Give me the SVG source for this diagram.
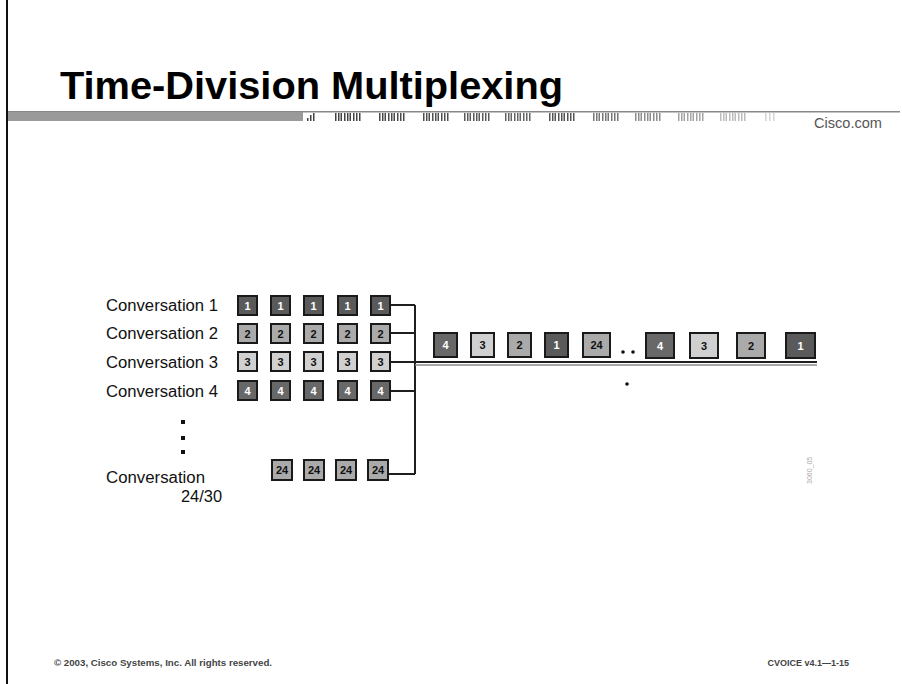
<svg xmlns="http://www.w3.org/2000/svg" xmlns:xlink="http://www.w3.org/1999/xlink" width="902" height="684" viewBox="0 0 902 684">
<style>
.lbl{font-family:"Liberation Sans",Arial,sans-serif;font-size:16px;fill:#111}
.bd{fill:#5a5a5a;stroke:#1a1a1a;stroke-width:2}
.b4{fill:#686868;stroke:#1a1a1a;stroke-width:2}
.bm{fill:#aaaaaa;stroke:#1a1a1a;stroke-width:2}
.bl{fill:#d0d0d0;stroke:#1a1a1a;stroke-width:2}
.nw{font-family:"Liberation Sans",Arial,sans-serif;font-weight:bold;font-size:11px;fill:#fff;text-anchor:middle}
.nk{font-family:"Liberation Sans",Arial,sans-serif;font-weight:bold;font-size:11px;fill:#111;text-anchor:middle}
.cn{fill:none;stroke:#1e1e1e;stroke-width:2}
.ft{font-family:"Liberation Sans",Arial,sans-serif;font-weight:bold;font-size:9px;fill:#444}
</style>
<defs>
<g id="bc">
<rect x="0" y="113" width="1.5" height="8"/><rect x="3" y="113" width="1.5" height="8"/><rect x="5.5" y="113" width="1.5" height="8"/>
<rect x="9" y="113" width="1.5" height="8"/><rect x="12" y="113" width="1.5" height="8"/><rect x="14.5" y="113" width="1.5" height="8"/>
<rect x="18" y="113" width="1.5" height="8"/><rect x="21" y="113" width="1.5" height="8"/><rect x="24" y="113" width="1.5" height="8"/>
</g>
</defs>
<rect width="902" height="684" fill="#fff"/>
<!-- frame and header -->
<rect x="6" y="0" width="2" height="684" fill="#111"/>
<text x="60" y="99" font-family="Liberation Sans,Arial,sans-serif" font-weight="bold" font-size="38" fill="#000" textLength="503" lengthAdjust="spacingAndGlyphs">Time-Division Multiplexing</text>
<rect x="8" y="111" width="892" height="1.5" fill="#888"/>
<rect x="8" y="112" width="295" height="9" fill="#9a9a9a"/>
<g id="barcode">
<rect x="307" y="118" width="1.5" height="3" fill="#444"/><rect x="310" y="115" width="1.5" height="6" fill="#444"/><rect x="313" y="113" width="1.5" height="8" fill="#444"/>
<use xlink:href="#bc" x="335" fill="#444"/>
<use xlink:href="#bc" x="379" fill="#4a4a4a"/>
<use xlink:href="#bc" x="423" fill="#505050"/>
<use xlink:href="#bc" x="464" fill="#5a5a5a"/>
<use xlink:href="#bc" x="505" fill="#646464"/>
<use xlink:href="#bc" x="549" fill="#555"/>
<use xlink:href="#bc" x="593" fill="#777"/>
<use xlink:href="#bc" x="635" fill="#8c8c8c"/>
<use xlink:href="#bc" x="678" fill="#a4a4a4"/>
<use xlink:href="#bc" x="720" fill="#bcbcbc"/>
<rect x="765" y="113" width="1.5" height="8" fill="#d4d4d4"/><rect x="769" y="113" width="1.5" height="8" fill="#d4d4d4"/><rect x="773" y="113" width="1.5" height="8" fill="#d4d4d4"/>
</g>
<text x="814" y="128" font-family="Liberation Sans,Arial,sans-serif" font-size="14" fill="#555" textLength="68" lengthAdjust="spacingAndGlyphs">Cisco.com</text>
<!-- labels -->
<g id="labels">
<text class="lbl" x="106" y="311" textLength="112" lengthAdjust="spacingAndGlyphs">Conversation 1</text>
<text class="lbl" x="106" y="339" textLength="112" lengthAdjust="spacingAndGlyphs">Conversation 2</text>
<text class="lbl" x="106" y="368" textLength="112" lengthAdjust="spacingAndGlyphs">Conversation 3</text>
<text class="lbl" x="106" y="397" textLength="112" lengthAdjust="spacingAndGlyphs">Conversation 4</text>
<text class="lbl" x="106" y="483" textLength="99" lengthAdjust="spacingAndGlyphs">Conversation</text>
<text class="lbl" x="181" y="502" textLength="41" lengthAdjust="spacingAndGlyphs">24/30</text>
<rect x="181" y="420" width="4" height="4" fill="#111"/>
<rect x="181" y="436" width="4" height="4" fill="#111"/>
<rect x="181" y="450" width="4" height="4" fill="#111"/>
</g>
<!-- connectors -->
<g id="connectors">
<path class="cn" d="M391 305H415M391 333H415M391 391H415M389 474H415M415 305V474"/>
<path class="cn" d="M391 362H817"/>
<path d="M415 365H817" stroke="#8a8a8a" stroke-width="1.5" fill="none"/>
</g>
<!-- conversation 1 -->
<g id="conv1">
<rect class="bd" x="238" y="296" width="19" height="19"/><text class="nw" x="247.5" y="309.5">1</text>
<rect class="bd" x="271" y="296" width="19" height="19"/><text class="nw" x="280.5" y="309.5">1</text>
<rect class="bd" x="304" y="296" width="19" height="19"/><text class="nw" x="313.5" y="309.5">1</text>
<rect class="bd" x="338" y="296" width="19" height="19"/><text class="nw" x="347.5" y="309.5">1</text>
<rect class="bd" x="371" y="296" width="19" height="19"/><text class="nw" x="380.5" y="309.5">1</text>
</g>
<g id="conv2">
<rect class="bm" x="238" y="324" width="19" height="19"/><text class="nk" x="247.5" y="337.5">2</text>
<rect class="bm" x="271" y="324" width="19" height="19"/><text class="nk" x="280.5" y="337.5">2</text>
<rect class="bm" x="304" y="324" width="19" height="19"/><text class="nk" x="313.5" y="337.5">2</text>
<rect class="bm" x="338" y="324" width="19" height="19"/><text class="nk" x="347.5" y="337.5">2</text>
<rect class="bm" x="371" y="324" width="19" height="19"/><text class="nk" x="380.5" y="337.5">2</text>
</g>
<g id="conv3">
<rect class="bl" x="238" y="352" width="19" height="19"/><text class="nk" x="247.5" y="365.5">3</text>
<rect class="bl" x="271" y="352" width="19" height="19"/><text class="nk" x="280.5" y="365.5">3</text>
<rect class="bl" x="304" y="352" width="19" height="19"/><text class="nk" x="313.5" y="365.5">3</text>
<rect class="bl" x="338" y="352" width="19" height="19"/><text class="nk" x="347.5" y="365.5">3</text>
<rect class="bl" x="371" y="352" width="19" height="19"/><text class="nk" x="380.5" y="365.5">3</text>
</g>
<g id="conv4">
<rect class="b4" x="238" y="381" width="19" height="19"/><text class="nw" x="247.5" y="394.5">4</text>
<rect class="b4" x="271" y="381" width="19" height="19"/><text class="nw" x="280.5" y="394.5">4</text>
<rect class="b4" x="304" y="381" width="19" height="19"/><text class="nw" x="313.5" y="394.5">4</text>
<rect class="b4" x="338" y="381" width="19" height="19"/><text class="nw" x="347.5" y="394.5">4</text>
<rect class="b4" x="371" y="381" width="19" height="19"/><text class="nw" x="380.5" y="394.5">4</text>
</g>
<g id="conv24">
<rect class="bm" x="272" y="460" width="20" height="20"/><text class="nk" x="282" y="474">24</text>
<rect class="bm" x="304" y="460" width="20" height="20"/><text class="nk" x="314" y="474">24</text>
<rect class="bm" x="336" y="460" width="20" height="20"/><text class="nk" x="346" y="474">24</text>
<rect class="bm" x="368" y="460" width="20" height="20"/><text class="nk" x="378" y="474">24</text>
</g>
<!-- multiplexed stream -->
<g id="stream">
<rect class="b4" x="434" y="333" width="23" height="24"/><text class="nw" x="445.5" y="349">4</text>
<rect class="bl" x="471" y="333" width="23" height="24"/><text class="nk" x="482.5" y="349">3</text>
<rect class="bm" x="508" y="333" width="23" height="24"/><text class="nk" x="519.5" y="349">2</text>
<rect class="bd" x="545" y="333" width="23" height="24"/><text class="nw" x="556.5" y="349">1</text>
<rect class="bm" x="583" y="333" width="27" height="24"/><text class="nk" x="596.5" y="349">24</text>
<circle cx="623" cy="352" r="1.8" fill="#111"/><circle cx="633" cy="352" r="1.8" fill="#111"/>
<rect class="b4" x="646" y="333" width="28" height="25"/><text class="nw" x="660" y="350">4</text>
<rect class="bl" x="690" y="333" width="28" height="25"/><text class="nk" x="704" y="350">3</text>
<rect class="bm" x="737" y="333" width="28" height="25"/><text class="nk" x="751" y="350">2</text>
<rect class="bd" x="786" y="333" width="29" height="25"/><text class="nw" x="800.5" y="350">1</text>
<circle cx="627" cy="384" r="1.8" fill="#111"/>
</g>
<text x="812" y="484" transform="rotate(-90 812 484)" font-family="Liberation Sans,Arial,sans-serif" font-size="7" fill="#aaa">3060_05</text>
<!-- footer -->
<text class="ft" x="54" y="666" textLength="218" lengthAdjust="spacingAndGlyphs">© 2003, Cisco Systems, Inc. All rights reserved.</text>
<text class="ft" x="849" y="666" text-anchor="end">CVOICE v4.1—1-15</text>
</svg>
